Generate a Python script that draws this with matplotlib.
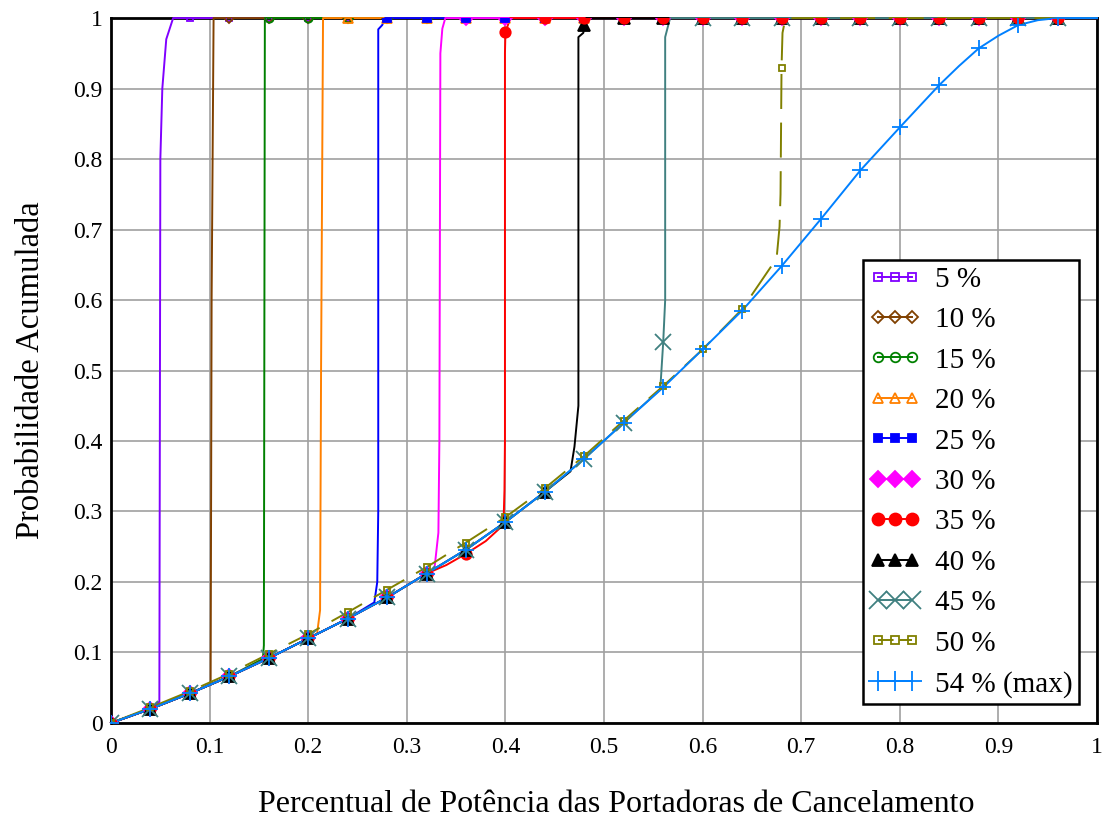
import numpy as np
import matplotlib.pyplot as plt
from matplotlib.lines import Line2D

plt.rcParams['font.family'] = ['Liberation Serif', 'DejaVu Serif']

# ============ DATA ============
# common curve (54 % max), all other curves follow it until they jump to 1
base_x = [0.00, 0.04, 0.08, 0.12, 0.16, 0.20, 0.24, 0.28, 0.32, 0.36, 0.40, 0.44,
          0.48, 0.52, 0.56, 0.60, 0.64, 0.68, 0.72, 0.76, 0.80, 0.84, 0.86, 0.88,
          0.90, 0.92, 0.94, 0.96, 1.00]
base_y = [0.000, 0.020, 0.042, 0.066, 0.092, 0.120, 0.148, 0.178, 0.212, 0.246, 0.285, 0.328,
          0.375, 0.426, 0.476, 0.530, 0.585, 0.648, 0.715, 0.784, 0.845, 0.905, 0.932, 0.957,
          0.975, 0.990, 0.997, 1.000, 1.000]

# 50 % curve lies a bit above the common one
olive_x = [0.00, 0.04, 0.08, 0.12, 0.16, 0.20, 0.24, 0.28, 0.32, 0.36, 0.40, 0.44,
           0.48, 0.52, 0.56, 0.60, 0.64]
olive_y = [0.000, 0.022, 0.045, 0.070, 0.098, 0.126, 0.157, 0.189, 0.221, 0.256, 0.292, 0.333,
           0.379, 0.429, 0.478, 0.530, 0.587]

# rise of each curve towards 1 (x, y)
rise_05 = [(0.049, 0.030), (0.050, 0.80), (0.052, 0.90), (0.056, 0.97), (0.063, 1.0)]
rise_10 = [(0.101, 0.055), (0.102, 0.60), (0.104, 1.0)]
rise_15 = [(0.154, 0.091), (0.155, 0.11), (0.156, 1.0)]
rise_20 = [(0.209, 0.127), (0.212, 0.16), (0.213, 0.50), (0.215, 1.0)]
rise_25 = [(0.267, 0.171), (0.270, 0.20), (0.271, 0.30), (0.271, 0.984), (0.275, 0.990), (0.278, 1.0)]
rise_30 = [(0.328, 0.219), (0.332, 0.27), (0.333, 0.40), (0.334, 0.95), (0.336, 0.985), (0.339, 1.0)]
rise_35 = [(0.34, 0.224), (0.36, 0.240), (0.38, 0.258), (0.398, 0.281), (0.399, 0.33),
           (0.3995, 0.40), (0.3995, 0.95), (0.40, 0.98), (0.405, 1.0)]
rise_40 = [(0.466, 0.357), (0.470, 0.392), (0.474, 0.45), (0.474, 0.973), (0.479, 0.979),
           (0.48, 0.99), (0.482, 1.0)]
rise_45 = [(0.557, 0.473), (0.56, 0.54), (0.562, 0.60), (0.562, 0.973), (0.567, 1.0)]
rise_50 = [(0.675, 0.659), (0.678, 0.704), (0.679, 0.75), (0.68, 0.929), (0.681, 0.979), (0.684, 1.0)]

labels = ['5 %', '10 %', '15 %', '20 %', '25 %', '30 %', '35 %', '40 %', '45 %', '50 %', '54 % (max)']
colors = ['#8000FF', '#804000', '#008000', '#FF8000', '#0000FF', '#FF00FF', '#FF0000',
          '#000000', '#408080', '#808000', '#0080FF']
markers = ['s', 'D', 'o', '^', 's', 'D', 'o', '^', 'x', 's', '+']
msizes = [5, 5, 6, 6.5, 5.5, 7, 7.5, 8, 11, 5, 12]
filled = [False, False, False, False, True, True, True, True, True, False, True]
# stacking of the markers sitting on the top line
top_rank = [0, 1, 2, 3, 5, 4, 9, 6, 7, 8, 10]

rises = [rise_05, rise_10, rise_15, rise_20, rise_25, rise_30, rise_35, rise_40, rise_45, rise_50, None]
marker_grid = np.round(np.arange(0, 25) * 0.04, 2)


def build(rise, pre_x=base_x, pre_y=base_y):
    if rise is None:
        return np.array(pre_x), np.array(pre_y)
    x0 = rise[0][0]
    x1 = rise[-1][0]
    xs = [a for a in pre_x if a < x0] + [p[0] for p in rise] + [g for g in marker_grid if g > x1] + [1.0]
    ys = [b for a, b in zip(pre_x, pre_y) if a < x0] + [p[1] for p in rise] + \
         [1.0 for g in marker_grid if g > x1] + [1.0]
    return np.array(xs), np.array(ys)


# ============ PLOT ============
fig = plt.figure(figsize=(11.06, 8.21), dpi=100)
ax = fig.add_axes([0.1004, 0.1194, 0.8915, 0.8586])

handles = []
for i, (lab, col, mk, ms, fl, rise) in enumerate(zip(labels, colors, markers, msizes, filled, rises)):
    if i == 9:
        x, y = build(rise, olive_x, olive_y)
        ls = (0, (18, 7))
    else:
        x, y = build(rise)
        ls = '-'
    ax.plot(x, y, color=col, lw=1.4, linestyle=ls, zorder=3 + i * 0.01, clip_on=False)

    on_grid = (np.abs(x * 25 - np.round(x * 25)) < 1e-6) & (x <= 0.961)
    top = on_grid & (y >= 0.9999)
    low = on_grid & (y < 0.9999)
    face = col if fl else 'none'
    for mask, z in [(low, 4 + i * 0.01), (top, 4 + top_rank[i] * 0.01)]:
        ax.plot(x[mask], y[mask], linestyle='none', marker=mk, ms=ms, mec=col, mfc=face,
                mew=1.3, zorder=z)

    handles.append(Line2D([], [], color=col, lw=1.4, linestyle=(0, (8, 3)) if i == 9 else '-',
                          marker=mk, ms=ms * 1.15, mec=col, mfc=face, mew=1.3, label=lab))

ax.set_xlim(0, 1)
ax.set_ylim(0, 1)
ticks = np.round(np.arange(0, 1.01, 0.1), 1)
tick_labels = ['0'] + ['%.1f' % t for t in ticks[1:-1]] + ['1']
ax.set_xticks(ticks)
ax.set_xticklabels(tick_labels)
ax.set_yticks(ticks)
ax.set_yticklabels(tick_labels)
ax.tick_params(axis='x', length=0, labelsize=17, pad=10)
ax.tick_params(axis='y', length=0, labelsize=17, pad=6)
ax.grid(True, color='#a0a0a0', lw=1.2)
ax.set_axisbelow(True)
for sp in ax.spines.values():
    sp.set_color('black')
    sp.set_linewidth(2)

ax.set_xlabel('Percentual de Potência das Portadoras de Cancelamento', fontsize=23)
ax.xaxis.set_label_coords(0.512, -0.095)
ax.set_ylabel('Probabilidade Acumulada', fontsize=23.5, labelpad=20)

leg = ax.legend(handles=handles, loc='lower right', bbox_to_anchor=(0.982, 0.027),
                borderaxespad=0, fontsize=21, numpoints=3, handlelength=1.75,
                handletextpad=0.5, labelspacing=0.48, borderpad=0.22, fancybox=False,
                framealpha=1, edgecolor='black')
leg.get_frame().set_linewidth(1.8)
leg.set_zorder(10)

fig.savefig('out.png', dpi=100)
